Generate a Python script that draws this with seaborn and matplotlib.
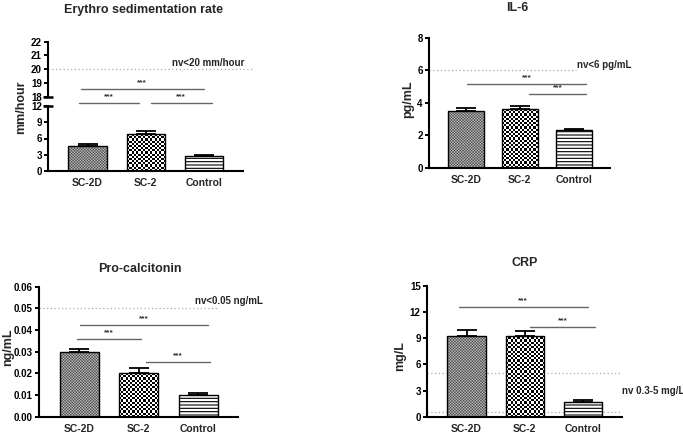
import numpy as np
import matplotlib
matplotlib.use("Agg")
import matplotlib.pyplot as plt
from matplotlib.colors import ListedColormap
import seaborn as sns

sns.set_style("ticks")
plt.rcParams["font.family"] = ["Liberation Sans", "DejaVu Sans"]
plt.rcParams["font.weight"] = "bold"
plt.rcParams["hatch.linewidth"] = 0.8
plt.rcParams["hatch.color"] = "#7a7a7a"

# data
groups = ["SC-2D", "SC-2", "Control"]

esr_mean = [4.6, 6.8, 2.8]
esr_sem = [0.4, 0.5, 0.15]
il6_mean = [3.5, 3.6, 2.3]
il6_sem = [0.15, 0.2, 0.08]
pct_mean = [0.030, 0.020, 0.010]
pct_sem = [0.0013, 0.0027, 0.0009]
crp_mean = [9.3, 9.3, 1.7]
crp_sem = [0.6, 0.5, 0.25]

# significance bars: (from group, to group, height)
esr_sig_top = [(-0.12, 2.0, 18.55)]
esr_sig_low = [(-0.15, 0.89, 12.55), (1.09, 2.13, 12.55)]
il6_sig = [(0.03, 2.23, 5.17), (1.17, 2.23, 4.52)]
pct_sig = [(0.01, 2.16, 0.0423), (-0.04, 1.03, 0.0359), (1.12, 2.2, 0.0251)]
crp_sig = [(-0.13, 2.08, 12.56), (1.09, 2.21, 10.33)]

W, H = 683, 434
fig = plt.figure(figsize=(W / 100, H / 100), dpi=100)


def px_axes(x0, x1, ytop, ybot):
    ax = fig.add_axes([x0 / W, 1 - ybot / H, (x1 - x0) / W, (ybot - ytop) / H])
    ax.set_facecolor("none")
    return ax


def ftext(x, y, s, **kw):
    fig.text(x / W, 1 - y / H, s, **kw)


def add_checker(ax, patch, cell, colors, interp="nearest"):
    bb = patch.get_window_extent()
    nx = max(1, int(round(bb.width / cell)))
    ny = max(1, int(round(bb.height / cell)))
    grid = np.indices((ny, nx)).sum(axis=0) % 2
    x0, y0 = patch.get_x(), patch.get_y()
    im = ax.imshow(grid, extent=(x0, x0 + patch.get_width(), y0, y0 + patch.get_height()),
                   cmap=ListedColormap(colors), interpolation=interp, aspect="auto",
                   origin="lower", zorder=1.5)
    im.set_clip_path(patch)


def style_axes(ax):
    sns.despine(ax=ax)
    for s in ["left", "bottom"]:
        ax.spines[s].set_linewidth(1.5)
        ax.spines[s].set_color("black")
    ax.tick_params(axis="y", direction="out", length=3, width=1.4, labelsize=7, pad=1.5, colors="black")
    ax.tick_params(axis="x", length=0, labelsize=7.5, pad=5)
    ax.set_xlabel("")
    ax.set_ylabel("")


def sig_lines(ax, sig, clip=True):
    for a, b, y in sig:
        ax.plot([a, b], [y, y], color="#666666", lw=1, clip_on=clip, zorder=4)
        ax.annotate("***", xy=((a + b) / 2, y), xytext=(0, 4.5), textcoords="offset points",
                    ha="center", va="center", fontsize=6, color="#333333",
                    annotation_clip=False, zorder=4)


def bar_panel(ax, means, sems, ylim, ticks, ticklabels=None):
    sns.barplot(x=groups, y=means, ax=ax, color="white", edgecolor="black",
                linewidth=1, width=0.66, saturation=1, zorder=2)
    ax.set_xlim(-0.68, 2.67)
    ax.set_ylim(*ylim)
    bars = ax.patches
    bars[0].set_facecolor("none")
    bars[1].set_facecolor("none")
    bars[2].set_facecolor("white")
    bars[2].set_hatch("-----")
    add_checker(ax, bars[0], 1.4, ["#3a3a3a", "#cdcdcd"], interp="antialiased")
    add_checker(ax, bars[1], 2.2, ["black", "white"])
    ax.errorbar(np.arange(3), means, yerr=[np.zeros(3), sems], fmt="none",
                ecolor="black", elinewidth=1.3, capsize=7, capthick=1.3, zorder=3)
    ax.set_xlim(-0.68, 2.67)
    ax.set_ylim(*ylim)
    ax.set_yticks(ticks)
    if ticklabels is not None:
        ax.set_yticklabels(ticklabels)
    style_axes(ax)


# ---- Erythro sedimentation rate (broken axis) ----
ax1 = px_axes(48, 243, 106, 171)
bar_panel(ax1, esr_mean, esr_sem, (0, 12), [0, 3, 6, 9, 12])
sig_lines(ax1, esr_sig_low, clip=False)
ax1.plot([0], [12], marker="_", ms=7, mew=1.8, color="black",
         transform=ax1.get_yaxis_transform(), clip_on=False)

ax1u = px_axes(48, 243, 41.7, 96.7)
ax1u.set_xlim(-0.68, 2.67)
ax1u.set_ylim(18, 22)
ax1u.set_yticks([18, 19, 20, 21, 22])
ax1u.set_xticks([])
style_axes(ax1u)
ax1u.spines["bottom"].set_visible(False)
ax1u.axhline(20, xmin=0, xmax=1.05, color="#aaaaaa", ls=(0, (1, 2)), lw=0.9, clip_on=False)
sig_lines(ax1u, esr_sig_top, clip=False)
ax1u.plot([0], [18], marker="_", ms=7, mew=1.8, color="black",
          transform=ax1u.get_yaxis_transform(), clip_on=False)

ftext(143.5, 12.5, "Erythro sedimentation rate", ha="center", va="baseline", fontsize=9)
ftext(21, 107, "mm/hour", ha="center", va="center", rotation=90, fontsize=9)
ftext(172, 65.5, "nv<20 mm/hour", ha="left", va="baseline", fontsize=7)

# ---- IL-6 ----
ax2 = px_axes(429, 610, 37.7, 167.7)
bar_panel(ax2, il6_mean, il6_sem, (0, 8), [0, 2, 4, 6, 8])
ax2.axhline(6, xmin=0, xmax=0.81, color="#aaaaaa", ls=(0, (1, 2)), lw=0.9, zorder=1)
sig_lines(ax2, il6_sig)
ftext(517, 11, "IL-6", ha="center", va="baseline", fontsize=9)
ftext(408, 99, "pg/mL", ha="center", va="center", rotation=90, fontsize=9)
ftext(577, 67.5, "nv<6 pg/mL", ha="left", va="baseline", fontsize=7)

# ---- Pro-calcitonin ----
ax3 = px_axes(39, 238, 286.7, 416.7)
bar_panel(ax3, pct_mean, pct_sem, (0, 0.06), [0, 0.01, 0.02, 0.03, 0.04, 0.05, 0.06],
          ["0.00", "0.01", "0.02", "0.03", "0.04", "0.05", "0.06"])
ax3.axhline(0.05, xmin=0, xmax=0.9, color="#aaaaaa", ls=(0, (1, 2)), lw=0.9, zorder=1)
sig_lines(ax3, pct_sig)
ftext(140, 271.5, "Pro-calcitonin", ha="center", va="baseline", fontsize=9)
ftext(8, 347, "ng/mL", ha="center", va="center", rotation=90, fontsize=9)
ftext(195, 304, "nv<0.05 ng/mL", ha="left", va="baseline", fontsize=7)

# ---- CRP ----
ax4 = px_axes(427, 622, 286, 416.7)
bar_panel(ax4, crp_mean, crp_sem, (0, 15), [0, 3, 6, 9, 12, 15])
ax4.axhline(5, color="#aaaaaa", ls=(0, (1, 2)), lw=0.9, zorder=1)
ax4.axhline(0.5, color="#aaaaaa", ls=(0, (1, 2)), lw=0.9, zorder=1)
sig_lines(ax4, crp_sig)
ftext(525, 266.5, "CRP", ha="center", va="baseline", fontsize=9)
ftext(400, 356, "mg/L", ha="center", va="center", rotation=90, fontsize=9)
ftext(622, 394, "nv 0.3-5 mg/L", ha="left", va="baseline", fontsize=7)

fig.savefig("out.png", dpi=100, facecolor="white")
